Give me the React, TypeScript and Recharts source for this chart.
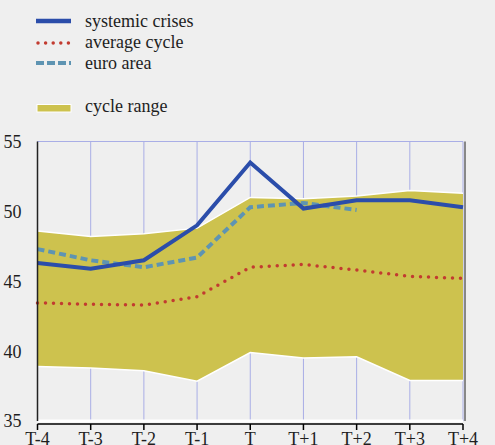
import React from 'react';
import { ComposedChart, Area, Line, XAxis, YAxis, CartesianGrid, ReferenceLine } from 'recharts';

const categories = ['T-4', 'T-3', 'T-2', 'T-1', 'T', 'T+1', 'T+2', 'T+3', 'T+4'];
const systemicCrises = [46.3, 45.9, 46.5, 49.0, 53.5, 50.2, 50.8, 50.8, 50.3];
const averageCycle = [43.45, 43.35, 43.3, 43.9, 46.0, 46.2, 45.8, 45.35, 45.2];
const euroArea: (number | null)[] = [47.3, 46.5, 46.0, 46.7, 50.3, 50.6, 50.1, null, null];
const rangeLow = [38.9, 38.8, 38.6, 37.85, 39.9, 39.5, 39.6, 37.9, 37.9];
const rangeHigh = [48.6, 48.2, 48.4, 48.8, 51.0, 50.9, 51.1, 51.5, 51.3];
const yTicks = [35, 40, 45, 50, 55];

const data = categories.map((c, i) => ({
  cat: c,
  systemic: systemicCrises[i],
  average: averageCycle[i],
  euro: euroArea[i],
  range: [rangeLow[i], rangeHigh[i]],
}));

const FONT = 'Liberation Serif, Times New Roman, Times, DejaVu Serif, serif';
const BLUE = '#2B4DAA';
const RED = '#C23B30';
const EURO = '#5E94B2';
const YELLOW = '#CDC24E';
const BG = '#EFEFEF';
const TEXT = '#1E1E1E';

function LegendBox() {
  return (
    <svg width={220} height={125} style={{ position: 'absolute', left: 0, top: 0 }}>
      <line x1={36} x2={71} y1={21} y2={21} stroke={BLUE} strokeWidth={4.5} />
      <line x1={38} x2={71} y1={43} y2={43} stroke={RED} strokeWidth={3.5} strokeDasharray="0 7.6" strokeLinecap="round" />
      <line x1={36} x2={71} y1={63} y2={63} stroke={EURO} strokeWidth={4} strokeDasharray="8 3" />
      <rect x={37} y={104.5} width={34} height={7.5} fill={YELLOW} stroke="#fff" strokeWidth={1} />
      <g style={{ fontFamily: FONT, fontSize: 18 }} fill={TEXT}>
        <text x={85} y={27} style={{ fontFamily: FONT }}>systemic crises</text>
        <text x={85} y={48} style={{ fontFamily: FONT }}>average cycle</text>
        <text x={85} y={69} style={{ fontFamily: FONT }}>euro area</text>
        <text x={85} y={112} style={{ fontFamily: FONT }}>cycle range</text>
      </g>
    </svg>
  );
}

export default function App() {
  const tickStyle = { fontSize: 18, fill: TEXT, fontFamily: FONT, style: { fontFamily: FONT } };
  return (
    <div style={{ position: 'absolute', left: 0, top: 0, width: 495, height: 445, background: BG, overflow: 'hidden', fontFamily: FONT }}>
      <ComposedChart
        width={495}
        height={445}
        data={data}
        margin={{ top: 141.5, right: 0, bottom: 0, left: 0 }}
        style={{ fontFamily: FONT }}
      >
        <CartesianGrid stroke="#A9AEE6" strokeWidth={1} />
        <XAxis
          dataKey="cat"
          height={24}
          interval={0}
          axisLine={{ stroke: '#000', strokeWidth: 1.5, transform: 'translate(0,3)' }}
          tickLine={{ stroke: '#000', strokeWidth: 1.5, transform: 'translate(0,3)' }}
          tickSize={6}
          tickMargin={5}
          tick={tickStyle}
        />
        <YAxis
          yAxisId="left"
          width={37.5}
          domain={[35, 55]}
          ticks={yTicks}
          axisLine={{ stroke: '#222', strokeWidth: 1.5 }}
          tickLine={false}
          tickMargin={10}
          tick={tickStyle}
        />
        <YAxis
          yAxisId="right"
          orientation="right"
          width={32}
          domain={[35, 55]}
          ticks={yTicks}
          axisLine={{ stroke: '#888', strokeWidth: 2, transform: 'translate(2,0)' }}
          tickLine={false}
          tickMargin={10}
          tick={tickStyle}
        />
        <Area
          yAxisId="left"
          type="linear"
          dataKey="range"
          fill={YELLOW}
          fillOpacity={1}
          stroke="#fff"
          strokeWidth={1.5}
          dot={false}
          activeDot={false}
          isAnimationActive={false}
        />
        <ReferenceLine yAxisId="left" y={35} stroke="#fff" strokeWidth={3} />
        <Line
          yAxisId="left"
          type="linear"
          dataKey="average"
          stroke={RED}
          strokeWidth={3.5}
          strokeDasharray="0 8"
          strokeLinecap="round"
          dot={false}
          activeDot={false}
          isAnimationActive={false}
        />
        <Line
          yAxisId="left"
          type="linear"
          dataKey="euro"
          stroke={EURO}
          strokeWidth={4}
          strokeDasharray="7 4"
          dot={false}
          activeDot={false}
          isAnimationActive={false}
        />
        <Line
          yAxisId="left"
          type="linear"
          dataKey="systemic"
          stroke={BLUE}
          strokeWidth={4}
          dot={false}
          activeDot={false}
          isAnimationActive={false}
        />
      </ComposedChart>
      <LegendBox />
    </div>
  );
}
